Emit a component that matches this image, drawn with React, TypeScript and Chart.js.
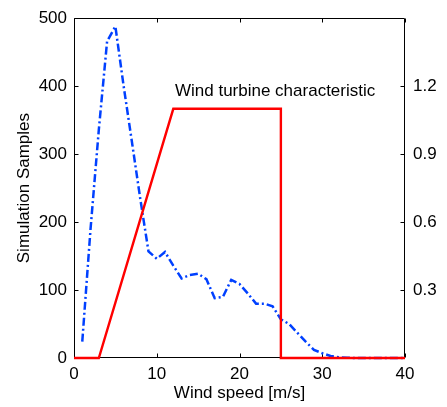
import { useEffect, useRef } from "react";
import { Chart, registerables } from "chart.js";

Chart.register(...registerables);

// ---- data ----
const windSpeeds = [
  1, 2, 3, 4, 5, 6, 7, 8, 9, 10, 11, 12, 13, 14, 15, 16, 17, 18, 19, 20,
  21, 22, 23, 24, 25, 26, 27, 28, 29, 30, 31, 32, 33, 34, 35, 36, 37, 38, 39, 40,
];
const simulationSamples = [
  24, 190, 336, 466, 488, 400, 318, 235, 157, 146, 156, 136, 117, 122, 124, 116, 88, 90, 115, 109,
  95, 80, 80, 76, 57, 50, 37, 24, 12, 7, 3, 1, 0.5, 0, 0, 0, 0, 0, 0, 0,
];
const characteristicSpeeds = [0, 3, 12, 25, 25, 40];
const characteristicValues = [0, 0, 1.1, 1.1, 0, 0];
const xTickValues = [0, 10, 20, 30, 40];
const leftTickValues = [0, 100, 200, 300, 400, 500];
const rightTickValues = [0.3, 0.6, 0.9, 1.2];
const annotationText = "Wind turbine characteristic";

const FONT_FAMILY = '"Liberation Sans", Arial, Helvetica, sans-serif';
const FONT = { family: FONT_FAMILY, size: 17 };

const framePlugin = {
  id: "frame",
  beforeDatasetsDraw(chart: any) {
    const { ctx, chartArea: a, scales } = chart;
    const x = scales.x;
    const y = scales.y;
    const y1 = scales.y1;
    const L = Math.round(a.left) + 0.5;
    const R = Math.round(a.right) - 0.5;
    const T = Math.round(a.top) + 0.5;
    const B = Math.round(a.bottom) - 0.5;
    const tl = 4;
    ctx.save();
    ctx.strokeStyle = "#000";
    ctx.lineWidth = 1;
    ctx.beginPath();
    ctx.rect(L, T, R - L, B - T);
    for (const v of xTickValues) {
      const px = Math.round(x.getPixelForValue(v)) + 0.5;
      ctx.moveTo(px, B);
      ctx.lineTo(px, B - tl);
      ctx.moveTo(px, T);
      ctx.lineTo(px, T + tl);
    }
    for (const v of leftTickValues) {
      const py = Math.round(y.getPixelForValue(v)) + 0.5;
      ctx.moveTo(L, py);
      ctx.lineTo(L + tl, py);
    }
    for (const v of rightTickValues) {
      const py = Math.round(y1.getPixelForValue(v)) + 0.5;
      ctx.moveTo(R, py);
      ctx.lineTo(R - tl, py);
    }
    ctx.stroke();
    ctx.restore();
  },
  afterDatasetsDraw(chart: any, _args: any, opts: any) {
    const { ctx, scales } = chart;
    ctx.save();
    ctx.fillStyle = "#000";
    ctx.font = `${FONT.size}px ${FONT_FAMILY}`;
    ctx.textAlign = "left";
    ctx.textBaseline = "alphabetic";
    ctx.fillText(
      opts.text,
      scales.x.getPixelForValue(opts.atX),
      scales.y.getPixelForValue(opts.atY)
    );
    ctx.restore();
  },
};

export default function App() {
  const ref = useRef<HTMLCanvasElement | null>(null);

  useEffect(() => {
    if (!ref.current) return;
    const chart = new Chart(ref.current, {
      type: "line",
      data: {
        datasets: [
          {
            label: "Wind turbine characteristic",
            data: characteristicSpeeds.map((s, i) => ({ x: s, y: characteristicValues[i] })),
            borderColor: "#ff0000",
            borderWidth: 2.4,
            pointRadius: 0,
            fill: false,
            tension: 0,
            clip: 4,
            yAxisID: "y1",
          },
          {
            label: "Simulation Samples",
            data: windSpeeds.map((s, i) => ({ x: s, y: simulationSamples[i] })),
            borderColor: "#0040ff",
            borderWidth: 2.5,
            borderDash: [8, 3, 2, 3],
            pointRadius: 0,
            fill: false,
            tension: 0,
            clip: 4,
            yAxisID: "y",
          },
        ],
      },
      options: {
        responsive: false,
        animation: false,
        devicePixelRatio: 1,
        layout: { padding: { top: 15, left: 0, right: 0, bottom: 0 } },
        plugins: {
          legend: { display: false },
          tooltip: { enabled: false },
          frame: { text: annotationText, atX: 12.2, atY: 386 },
        } as any,
        scales: {
          x: {
            type: "linear",
            min: 0,
            max: 40,
            ticks: { stepSize: 10, padding: 6, font: FONT, color: "#000", maxRotation: 0 },
            grid: { display: false, drawTicks: false },
            border: { display: false },
            title: {
              display: true,
              text: "Wind speed [m/s]",
              font: FONT,
              color: "#000",
              padding: { top: 0, bottom: 3 },
            },
            afterFit(s: any) {
              s.height = 49;
            },
          },
          y: {
            position: "left",
            min: 0,
            max: 500,
            ticks: { stepSize: 100, padding: 7, font: FONT, color: "#000" },
            grid: { display: false, drawTicks: false },
            border: { display: false },
            title: {
              display: true,
              text: "Simulation Samples",
              font: FONT,
              color: "#000",
              padding: { top: 14, bottom: 0 },
            },
            afterFit(s: any) {
              s.width = 74;
            },
          },
          y1: {
            position: "right",
            min: 0,
            max: 1.5,
            ticks: {
              stepSize: 0.3,
              padding: 8,
              font: FONT,
              color: "#000",
              callback: (v: any) => {
                const n = Number(v);
                return n > 0.01 && n < 1.49 ? n.toFixed(1) : "";
              },
            },
            grid: { display: false, drawTicks: false },
            border: { display: false },
            afterFit(s: any) {
              s.width = 42;
            },
          },
        },
      } as any,
      plugins: [framePlugin],
    });
    return () => chart.destroy();
  }, []);

  return (
    <div style={{ position: "fixed", left: 0, top: 0, width: 447, height: 407, background: "#fff" }}>
      <canvas ref={ref} width={447} height={407} style={{ display: "block", width: 447, height: 407 }} />
    </div>
  );
}
